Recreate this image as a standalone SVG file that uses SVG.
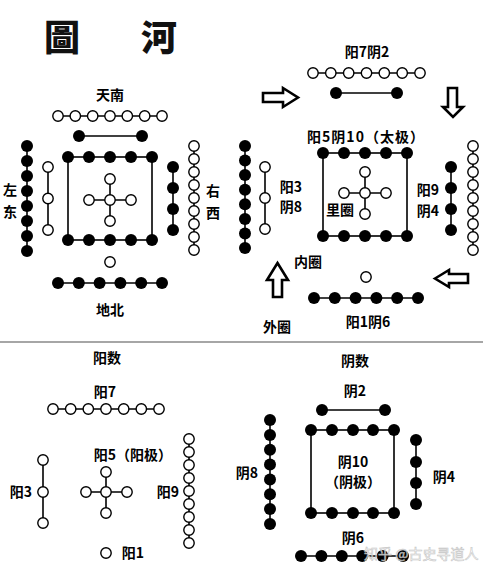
<svg xmlns="http://www.w3.org/2000/svg" width="486" height="572" viewBox="0 0 486 572">
<style>
.o{fill:#fff;stroke:#000;stroke-width:1.4}
.b{fill:#000}
.ln{stroke:#000;stroke-width:1.6;fill:none}
.t{font-family:"Noto Sans CJK SC","Noto Sans CJK TC",sans-serif;font-weight:700;font-size:14px;fill:#000;text-anchor:middle}
.ti{font-family:"Noto Sans CJK TC","Noto Sans CJK SC",serif;font-weight:900;font-size:36px;fill:#111;text-anchor:middle}
.ar{fill:#fff;stroke:#000;stroke-width:2.6;stroke-linejoin:miter}
.wm{font-family:"Noto Sans CJK SC",sans-serif;font-size:14px;fill:#fff;stroke:#bbb;stroke-width:0.6;opacity:0.85}
</style>
<rect width="486" height="572" fill="#fff"/>
<g id="title">
<text class="ti" x="62" y="51">圖</text>
<text class="ti" x="159" y="51">河</text>
</g>
<g id="connectors">
<!-- top-left -->
<line class="ln" x1="58" y1="116" x2="162" y2="116"/>
<line class="ln" x1="79" y1="136" x2="142" y2="136"/>
<rect class="ln" x="68" y="157" width="84" height="83"/>
<line class="ln" x1="89" y1="200" x2="131" y2="200"/>
<line class="ln" x1="110" y1="179" x2="110" y2="221"/>
<line class="ln" x1="27" y1="146" x2="27" y2="251"/>
<line class="ln" x1="48" y1="167" x2="48" y2="230"/>
<line class="ln" x1="173" y1="167" x2="173" y2="230"/>
<line class="ln" x1="194" y1="146" x2="194" y2="250"/>
<line class="ln" x1="58" y1="283" x2="162" y2="283"/>
<!-- top-right -->
<line class="ln" x1="313" y1="73" x2="420" y2="73"/>
<line class="ln" x1="336" y1="93" x2="397" y2="93"/>
<rect class="ln" x="323" y="153" width="84" height="83"/>
<line class="ln" x1="344" y1="193" x2="386" y2="193"/>
<line class="ln" x1="365" y1="172" x2="365" y2="214"/>
<line class="ln" x1="245" y1="146" x2="245" y2="248"/>
<line class="ln" x1="265" y1="167" x2="265" y2="229"/>
<line class="ln" x1="451" y1="167" x2="451" y2="230"/>
<line class="ln" x1="473" y1="146" x2="473" y2="250"/>
<line class="ln" x1="314" y1="298" x2="418" y2="298"/>
<!-- bottom-left -->
<line class="ln" x1="53" y1="409" x2="159" y2="409"/>
<line class="ln" x1="86" y1="492" x2="127" y2="492"/>
<line class="ln" x1="106" y1="472" x2="106" y2="513"/>
<line class="ln" x1="43" y1="460" x2="43" y2="523"/>
<line class="ln" x1="189" y1="439" x2="189" y2="543"/>
<!-- bottom-right -->
<line class="ln" x1="322" y1="410" x2="385" y2="410"/>
<rect class="ln" x="311" y="430" width="83" height="83"/>
<line class="ln" x1="270" y1="420" x2="270" y2="524"/>
<line class="ln" x1="416" y1="440" x2="416" y2="504"/>
<line class="ln" x1="301" y1="556" x2="403" y2="556"/>
<!-- separator -->
<line x1="0" y1="342" x2="483" y2="342" stroke="#888" stroke-width="1.5"/>
</g>
<g id="tl-south">
<text class="t" x="110" y="100">天南</text>
<circle class="o" cx="58" cy="116" r="5.2"/><circle class="o" cx="75.3" cy="116" r="5.2"/><circle class="o" cx="92.7" cy="116" r="5.2"/><circle class="o" cx="110" cy="116" r="5.2"/><circle class="o" cx="127.3" cy="116" r="5.2"/><circle class="o" cx="144.7" cy="116" r="5.2"/><circle class="o" cx="162" cy="116" r="5.2"/>
<circle class="b" cx="79" cy="136" r="6"/><circle class="b" cx="142" cy="136" r="6"/>
</g>
<g id="tl-center">
<circle class="b" cx="68" cy="157" r="6"/><circle class="b" cx="89" cy="157" r="6"/><circle class="b" cx="110" cy="157" r="6"/><circle class="b" cx="131" cy="157" r="6"/><circle class="b" cx="152" cy="157" r="6"/>
<circle class="b" cx="68" cy="240" r="6"/><circle class="b" cx="89" cy="240" r="6"/><circle class="b" cx="110" cy="240" r="6"/><circle class="b" cx="131" cy="240" r="6"/><circle class="b" cx="152" cy="240" r="6"/>
<circle class="o" cx="110" cy="200" r="5.2"/><circle class="o" cx="110" cy="179" r="5.2"/><circle class="o" cx="110" cy="221" r="5.2"/><circle class="o" cx="89" cy="200" r="5.2"/><circle class="o" cx="131" cy="200" r="5.2"/>
</g>
<g id="tl-east">
<text class="t" x="10" y="195">左</text><text class="t" x="10" y="217">东</text>
<circle class="b" cx="27" cy="146" r="6"/><circle class="b" cx="27" cy="161" r="6"/><circle class="b" cx="27" cy="176" r="6"/><circle class="b" cx="27" cy="191" r="6"/><circle class="b" cx="27" cy="206" r="6"/><circle class="b" cx="27" cy="221" r="6"/><circle class="b" cx="27" cy="236" r="6"/><circle class="b" cx="27" cy="251" r="6"/>
<circle class="o" cx="48" cy="167" r="5.2"/><circle class="o" cx="48" cy="198.5" r="5.2"/><circle class="o" cx="48" cy="230" r="5.2"/>
</g>
<g id="tl-west">
<text class="t" x="213" y="196">右</text><text class="t" x="213" y="218">西</text>
<circle class="b" cx="173" cy="167" r="6"/><circle class="b" cx="173" cy="188" r="6"/><circle class="b" cx="173" cy="209" r="6"/><circle class="b" cx="173" cy="230" r="6"/>
<circle class="o" cx="194" cy="146" r="5.2"/><circle class="o" cx="194" cy="159" r="5.2"/><circle class="o" cx="194" cy="172" r="5.2"/><circle class="o" cx="194" cy="185" r="5.2"/><circle class="o" cx="194" cy="198" r="5.2"/><circle class="o" cx="194" cy="211" r="5.2"/><circle class="o" cx="194" cy="224" r="5.2"/><circle class="o" cx="194" cy="237" r="5.2"/><circle class="o" cx="194" cy="250" r="5.2"/>
</g>
<g id="tl-north">
<circle class="o" cx="110" cy="262" r="5.2"/>
<circle class="b" cx="58" cy="283" r="6"/><circle class="b" cx="78.8" cy="283" r="6"/><circle class="b" cx="99.6" cy="283" r="6"/><circle class="b" cx="120.4" cy="283" r="6"/><circle class="b" cx="141.2" cy="283" r="6"/><circle class="b" cx="162" cy="283" r="6"/>
<text class="t" x="110" y="315">地北</text>
</g>
<g id="tr-top">
<text class="t" x="367" y="57">阳7阴2</text>
<circle class="o" cx="313" cy="73" r="5.2"/><circle class="o" cx="330.8" cy="73" r="5.2"/><circle class="o" cx="348.7" cy="73" r="5.2"/><circle class="o" cx="366.5" cy="73" r="5.2"/><circle class="o" cx="384.3" cy="73" r="5.2"/><circle class="o" cx="402.2" cy="73" r="5.2"/><circle class="o" cx="420" cy="73" r="5.2"/>
<circle class="b" cx="336" cy="93" r="6"/><circle class="b" cx="397" cy="93" r="6"/>
</g>
<g id="tr-center">
<text class="t" x="366" y="142" letter-spacing="1">阳5阴10（太极）</text>
<circle class="b" cx="323" cy="153" r="6"/><circle class="b" cx="344" cy="153" r="6"/><circle class="b" cx="365" cy="153" r="6"/><circle class="b" cx="386" cy="153" r="6"/><circle class="b" cx="407" cy="153" r="6"/>
<circle class="b" cx="323" cy="236" r="6"/><circle class="b" cx="344" cy="236" r="6"/><circle class="b" cx="365" cy="236" r="6"/><circle class="b" cx="386" cy="236" r="6"/><circle class="b" cx="407" cy="236" r="6"/>
<circle class="o" cx="365" cy="193" r="5.2"/><circle class="o" cx="365" cy="172" r="5.2"/><circle class="o" cx="365" cy="214" r="5.2"/><circle class="o" cx="344" cy="193" r="5.2"/><circle class="o" cx="386" cy="193" r="5.2"/>
<text class="t" x="340" y="215">里圈</text>
</g>
<g id="tr-left">
<circle class="b" cx="245" cy="146" r="6"/><circle class="b" cx="245" cy="160.6" r="6"/><circle class="b" cx="245" cy="175.1" r="6"/><circle class="b" cx="245" cy="189.7" r="6"/><circle class="b" cx="245" cy="204.3" r="6"/><circle class="b" cx="245" cy="218.9" r="6"/><circle class="b" cx="245" cy="233.4" r="6"/><circle class="b" cx="245" cy="248" r="6"/>
<circle class="o" cx="265" cy="167" r="5.2"/><circle class="o" cx="265" cy="198" r="5.2"/><circle class="o" cx="265" cy="229" r="5.2"/>
<text class="t" x="291" y="192">阳3</text><text class="t" x="291" y="212">阴8</text>
</g>
<g id="tr-right">
<text class="t" x="428" y="195">阳9</text><text class="t" x="428" y="216">阴4</text>
<circle class="b" cx="451" cy="167" r="6"/><circle class="b" cx="451" cy="188" r="6"/><circle class="b" cx="451" cy="209" r="6"/><circle class="b" cx="451" cy="230" r="6"/>
<circle class="o" cx="473" cy="146" r="5.2"/><circle class="o" cx="473" cy="159" r="5.2"/><circle class="o" cx="473" cy="172" r="5.2"/><circle class="o" cx="473" cy="185" r="5.2"/><circle class="o" cx="473" cy="198" r="5.2"/><circle class="o" cx="473" cy="211" r="5.2"/><circle class="o" cx="473" cy="224" r="5.2"/><circle class="o" cx="473" cy="237" r="5.2"/><circle class="o" cx="473" cy="250" r="5.2"/>
</g>
<g id="tr-bottom">
<circle class="o" cx="366" cy="277" r="5.2"/>
<circle class="b" cx="314" cy="298" r="6"/><circle class="b" cx="334.8" cy="298" r="6"/><circle class="b" cx="355.6" cy="298" r="6"/><circle class="b" cx="376.4" cy="298" r="6"/><circle class="b" cx="397.2" cy="298" r="6"/><circle class="b" cx="418" cy="298" r="6"/>
<text class="t" x="368" y="327">阳1阴6</text>
</g>
<g id="tr-labels">
<text class="t" x="308" y="267">内圈</text>
<text class="t" x="277" y="332">外圈</text>
</g>
<g id="arrows">
<polygon class="ar" points="263,93 283,93 283,88 298,97.5 283,107 283,102 263,102"/>
<polygon class="ar" points="448,88 457,88 457,107 463,107 453,117 443,107 448,107"/>
<polygon class="ar" points="277.5,263 288,280 282,280 282,297 273,297 273,280 267,280"/>
<polygon class="ar" points="435,278.5 449,270 449,274 468,274 468,283 449,283 449,287"/>
</g>
<g id="bl-yang">
<text class="t" x="107" y="363">阳数</text>
</g>
<g id="bl-7">
<text class="t" x="105" y="397">阳7</text>
<circle class="o" cx="53" cy="409" r="5.2"/><circle class="o" cx="70.7" cy="409" r="5.2"/><circle class="o" cx="88.3" cy="409" r="5.2"/><circle class="o" cx="106" cy="409" r="5.2"/><circle class="o" cx="123.7" cy="409" r="5.2"/><circle class="o" cx="141.3" cy="409" r="5.2"/><circle class="o" cx="159" cy="409" r="5.2"/>
</g>
<g id="bl-5">
<text class="t" x="133" y="460">阳5（阳极）</text>
<circle class="o" cx="106" cy="492" r="5.2"/><circle class="o" cx="106" cy="472" r="5.2"/><circle class="o" cx="106" cy="513" r="5.2"/><circle class="o" cx="86" cy="492" r="5.2"/><circle class="o" cx="127" cy="492" r="5.2"/>
</g>
<g id="bl-3">
<text class="t" x="21" y="497">阳3</text>
<circle class="o" cx="43" cy="460" r="5.2"/><circle class="o" cx="43" cy="492" r="5.2"/><circle class="o" cx="43" cy="523" r="5.2"/>
</g>
<g id="bl-9">
<text class="t" x="168" y="497">阳9</text>
<circle class="o" cx="189" cy="439" r="5.2"/><circle class="o" cx="189" cy="452" r="5.2"/><circle class="o" cx="189" cy="465" r="5.2"/><circle class="o" cx="189" cy="478" r="5.2"/><circle class="o" cx="189" cy="491" r="5.2"/><circle class="o" cx="189" cy="504" r="5.2"/><circle class="o" cx="189" cy="517" r="5.2"/><circle class="o" cx="189" cy="530" r="5.2"/><circle class="o" cx="189" cy="543" r="5.2"/>
</g>
<g id="bl-1">
<circle class="o" cx="106" cy="553" r="5.2"/>
<text class="t" x="133" y="558">阳1</text>
</g>
<g id="br-yin">
<text class="t" x="355" y="366">阴数</text>
</g>
<g id="br-2">
<text class="t" x="355" y="396">阴2</text>
<circle class="b" cx="322" cy="410" r="6"/><circle class="b" cx="385" cy="410" r="6"/>
</g>
<g id="br-10">
<circle class="b" cx="311" cy="430" r="6"/><circle class="b" cx="332" cy="430" r="6"/><circle class="b" cx="353" cy="430" r="6"/><circle class="b" cx="373" cy="430" r="6"/><circle class="b" cx="394" cy="430" r="6"/>
<circle class="b" cx="311" cy="513" r="6"/><circle class="b" cx="332" cy="513" r="6"/><circle class="b" cx="353" cy="513" r="6"/><circle class="b" cx="373" cy="513" r="6"/><circle class="b" cx="394" cy="513" r="6"/>
<text class="t" x="353" y="467">阴10</text>
<text class="t" x="353" y="487">（阴极）</text>
</g>
<g id="br-8">
<text class="t" x="247" y="478">阴8</text>
<circle class="b" cx="270" cy="420" r="6"/><circle class="b" cx="270" cy="434.9" r="6"/><circle class="b" cx="270" cy="449.7" r="6"/><circle class="b" cx="270" cy="464.6" r="6"/><circle class="b" cx="270" cy="479.4" r="6"/><circle class="b" cx="270" cy="494.3" r="6"/><circle class="b" cx="270" cy="509.1" r="6"/><circle class="b" cx="270" cy="524" r="6"/>
</g>
<g id="br-4">
<circle class="b" cx="416" cy="440" r="6"/><circle class="b" cx="416" cy="462" r="6"/><circle class="b" cx="416" cy="483" r="6"/><circle class="b" cx="416" cy="504" r="6"/>
<text class="t" x="444" y="482">阴4</text>
</g>
<g id="br-6">
<text class="t" x="353" y="543">阴6</text>
<circle class="b" cx="301" cy="556" r="6"/><circle class="b" cx="321.4" cy="556" r="6"/><circle class="b" cx="341.8" cy="556" r="6"/><circle class="b" cx="362.2" cy="556" r="6"/><circle class="b" cx="382.6" cy="556" r="6"/><circle class="b" cx="403" cy="556" r="6"/>
</g>
<g id="watermark">
<text class="wm" x="364" y="559">知乎 @古史寻道人</text>
</g>
</svg>
